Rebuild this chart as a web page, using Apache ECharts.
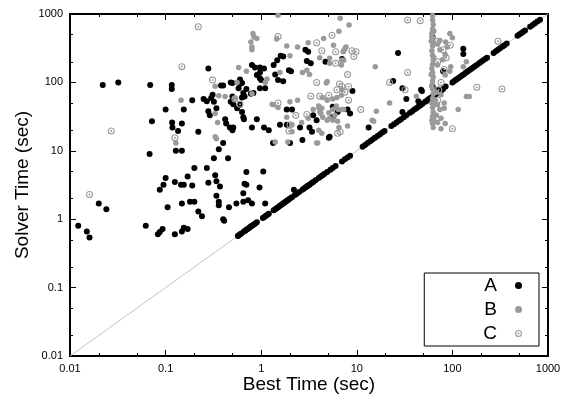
<!DOCTYPE html>
<html>
<head>
<meta charset="utf-8">
<script src="https://cdn.jsdelivr.net/npm/echarts@6/dist/echarts.min.js"></script>
<style>html,body{margin:0;padding:0;background:#fff}#c{width:562px;height:394px}</style>
</head>
<body>
<div id="c"></div>
<script>
const xMajor = [0.01, 0.1, 1, 10, 100, 1000];
const xMinor = [0.02, 0.05, 0.2, 0.5, 2, 5, 20, 50, 200, 500];
const yMajor = [0.01, 0.1, 1, 10, 100, 1000];
const yMinor = [0.02, 0.05, 0.2, 0.5, 2, 5, 20, 50, 200, 500];
const seriesNames = ['A', 'B', 'C'];
const xTitle = 'Best Time (sec)';
const yTitle = 'Solver Time (sec)';
const refLine = [[0.01, 0.01], [1000, 1000]];

const seriesA = [
[0.022,92],[0.032,100],[0.069,92],[0.116,92],[0.116,80],[0.19,55],[0.1,40],[0.155,40],[0.072,27],[0.117,26],[0.118,22],[0.148,25],[0.135,19.5],[0.22,19],[0.128,10],[0.148,10],[0.068,9],[0.2,5.6],[0.17,4.2],[0.1,4],[0.125,3.5],[0.095,3.2],[0.145,3.2],[0.155,3.2],[0.19,3.1],[0.087,2.7],
[0.0122,0.8],[0.015,0.66],[0.016,0.54],[0.02,1.7],[0.024,1.4],[0.062,0.8],[0.083,0.6],[0.087,0.65],[0.093,0.72],[0.105,1.5],[0.125,0.6],[0.148,1.7],[0.148,0.66],[0.155,0.75],[0.17,0.72],[0.18,1.8],[0.2,1.8],[0.22,1.3],[0.24,1.1],[0.28,3.4],[0.34,3.6],[0.37,3.0],[0.34,2.2],[0.36,1.8],[0.36,1.6],[0.4,1.0],[0.41,0.95],[0.46,1.5],[0.55,1.7],[0.65,1.8],[0.65,2.4],[0.7,3.2],[0.73,1.9],[0.8,1.7],[0.96,2.9],[1.1,1.7],
[0.33,4.4],[0.27,5.6],[0.32,7.8],[0.45,7.8],[0.36,10.5],[0.4,13],[0.7,4.9],[1.05,5.0],[0.67,3.3],[2.2,2.7],
[0.28,160],[0.38,90],[0.4,90],[0.48,100],[0.6,110],[0.63,98],[0.58,82],[0.7,80],[0.65,70],[0.67,62],[0.78,68],[0.83,70],[0.25,57],[0.27,53],[0.3,59],[0.31,66],[0.32,52],[0.34,42],[0.28,38],[0.29,33],[0.42,29],[0.43,25],[0.47,22],[0.5,20],[0.51,22],[0.63,37],[0.65,31],[0.66,29],[0.48,52],[0.56,42],[0.6,47],[0.8,22],[0.9,29],[1.07,22],[1.2,20],[1.57,24],[1.85,40],[2.1,40],[1.85,24],[2.55,22],[3.2,22],[3.5,33],[3.8,28],[5.6,44],[6.3,37],[5.6,31],[8,40],[5.2,16],
[2.9,300],[3.1,280],[3.0,205],[3.3,190],[4.7,200],[1.6,245],[1.7,240],[1.47,210],[1.35,180],[0.8,180],[0.86,165],[0.97,165],[1.07,160],[0.97,140],[1.0,108],[0.97,82],[1.1,82],[1.95,150],[2.05,145],[1.4,130],[1.7,104],[1.5,108],[0.97,115],[0.9,128],[0.6,95],[0.5,98],[0.63,60],[0.5,62],[0.51,48],[1.33,13],[2.0,13],[2.7,14.4],[3.4,19],[5.1,15.5],
[27,270],[24,105],[30,82],[48,75],[33,57],[44,53],[62,88],[70,78],[85,87],[30,37],[13.3,22],[8.5,35],[9,75],[7,220],[62,460],[130,310],[130,260],[80,145],[47,78]
];
const diagonalA = [
[0.57,0.57],[0.58,0.58],[0.6,0.6],[0.62,0.62],[0.66,0.66],[0.68,0.68],[0.7,0.7],[0.72,0.72],[0.74,0.74],[0.76,0.76],[0.78,0.78],[0.8,0.8],[0.83,0.83],[0.86,0.86],[0.9,0.9],
[1.04,1.04],[1.08,1.08],[1.12,1.12],[1.16,1.16],[1.2,1.2],[1.35,1.35],[1.4,1.4],[1.45,1.45],[1.5,1.5],[1.55,1.55],[1.6,1.6],[1.65,1.65],[1.7,1.7],[1.75,1.75],[1.8,1.8],[1.86,1.86],[1.92,1.92],[2.0,2.0],[2.1,2.1],
[2.25,2.25],[2.35,2.35],[2.5,2.5],[2.7,2.7],[2.8,2.8],[2.9,2.9],[3.0,3.0],[3.1,3.1],[3.2,3.2],[3.35,3.35],[3.5,3.5],[3.7,3.7],[4.0,4.0],[4.2,4.2],[4.4,4.4],[4.6,4.6],[4.9,4.9],[5.3,5.3],[5.6,5.6],[6.0,6.0],
[7.0,7.0],[7.5,7.5],[8.0,8.0],[8.5,8.5],[11.5,11.5],[12.2,12.2],[13,13],[13.8,13.8],[14.6,14.6],[15.5,15.5],[16.5,16.5],[17.5,17.5],[18.5,18.5],[19.5,19.5],
[23,23],[24.5,24.5],[26,26],[27.5,27.5],[29,29],[31,31],[33,33],[36,36],[38,38],[40,40],[42,42],[44,44],[46.5,46.5],[49,49],[52,52],[54,54],
[56,56],[58,58],[60,60],[62,62],[64,64],[66,66],[68,68],[70,70],[72,72],[74,74],[77,77],[80,80],
[100,100],[104,104],[108,108],[112,112],[117,117],[122,122],[127,127],[132,132],[138,138],[144,144],[150,150],[157,157],[165,165],[172,172],
[180,180],[190,190],[200,200],[210,210],[220,220],[230,230],[270,270],[285,285],[300,300],[315,315],[335,335],[350,350],[370,370],
[480,480],[500,500],[525,525],[550,550],[575,575],[650,650],[690,690],[730,730],[775,775],[825,825]
];
const seriesB = [
[0.145,55],[0.128,13],[0.33,88],[0.33,35],[0.35,26],[0.33,16],[0.34,15],[0.36,64],[0.42,62],[0.53,59],[0.56,100],[0.58,165],[0.7,145],[0.8,68],[1.15,112],[1.1,100],
[0.82,520],[0.84,460],[0.9,440],[0.78,390],[0.8,330],[0.8,300],[1.5,960],[1.45,430],[6.7,870],[8.3,690],[4.5,440],[3.1,380],[1.85,340],[2.4,330],[5.7,350],[7.7,330],[7.2,280],[7.5,310],[6.9,210],[6.5,560],[7.3,290],[5.2,190],[2.0,245],[1.57,140],[2.7,140],[3.0,150],[3.2,130],[4.1,230],[5.2,225],[4.8,98],[4.9,103],[7,78],[6.9,180],[7.3,210],[15.6,170],
[1.3,48],[1.5,43],[1.35,47],[2.4,55],[2.0,52],[1.85,31],[2.1,24],[2.65,26],[3.1,30],[3.5,40],[4.0,45],[4.1,37],[4.3,42],[4.4,60],[4.9,55],[4.0,43],[4.2,35],[4.4,31],[4.9,28],[5.1,36],[5.6,40],[6.1,45],[6.4,40],[7.3,40],[5.2,30],[5.6,28],[5.9,33],[6.5,22],[5.6,57],[6.2,60],[6.9,65],[4.0,20],[6.3,27],[1.4,13.5],[1.9,13.5],[3.8,13],[3.9,13],[4.3,18],[2.1,19],[7,40],[8,23],[14.5,28],[16,38],[22,50],[42,63],[15,27],
[62,950],[62,820],[63,700],[62,600],[61,520],[62,450],[63,390],[62,340],[61,290],[62,250],[63,215],[62,185],[61,160],[62,140],[63,120],[62,105],[61,92],[62,80],[63,68],[62,58],[61,50],[62,43],[63,37],[62,32],[61,28],[62,25],[63,22],[64,560],[60,400],[64,230],[60,130],[64,47],
[94,520],[100,450],[85,390],[70,360],[74,300],[84,255],[79,215],[88,330],[70,180],[96,170],[94,145],[140,200],[130,170],[84,128],[74,410],[140,62],[150,62],[115,40],[82,50],[82,42],[76,21],[84,25],[66,55],[70,47],[74,40],[68,33],[76,30],[64,28],[70,26],[68,72],[76,66]
];
const seriesC = [
[0.22,650],[0.148,170],[0.027,19.5],[0.125,15.5],[0.016,2.3],[0.31,108],[0.53,57],[0.6,48],[1.5,470],[5.5,490],[3.8,380],[4.3,290],[6.0,280],[6.0,190],[8.9,290],[9.8,280],[9.3,240],[1.5,50],[3.8,100],[3.3,63],[4.1,63],[5.1,65],[6.6,95],[7,87],[8.2,87],[6.2,78],[7.5,72],[8.2,55],[2.3,33],[3.0,34],[2.0,24],[1.95,19.5],[6.3,18],[6.7,19],[8,130],[11,40],[34,820],[46,800],[34,140],[22,100],[32,78],[76,100],[72,78],[70,55],[70,400],[100,21],[300,400],[180,85],[330,80],[80,300],[86,230],[70,200],[95,350],[82,155]
];

const FONT = 'Liberation Sans, Arial, Helvetica, sans-serif';
const ringPath = 'path://M0,10A10,10,0,1,1,20,10A10,10,0,1,1,0,10ZM3,10A7,7,0,1,0,17,10A7,7,0,1,0,3,10ZM7.2,10A2.8,2.8,0,1,1,12.8,10A2.8,2.8,0,1,1,7.2,10Z';
const fmt = v => String(Number(Number(v).toPrecision(3)));

function axis(dim, pos, ticks, len, withLabels) {
  return {
    type: 'log', logBase: 10, min: 0.01, max: 1000, position: pos,
    axisLine: { show: false },
    splitLine: { show: false },
    minorTick: { show: false },
    axisTick: { show: true, inside: true, length: len, customValues: ticks, lineStyle: { color: '#000', width: 1 } },
    axisLabel: withLabels
      ? { show: true, customValues: ticks, formatter: fmt, color: '#000', fontSize: 11, fontFamily: FONT, margin: 7 }
      : { show: false },
    silent: true
  };
}

const xAxes = [
  Object.assign(axis('x', 'bottom', xMajor, 6, true), {
    name: xTitle, nameLocation: 'middle', nameGap: 19, nameMoveOverlap: false,
    nameTextStyle: { fontSize: 19, fontFamily: FONT, color: '#000' }
  }),
  axis('x', 'bottom', xMinor, 3, false),
  axis('x', 'top', xMajor, 6, false),
  axis('x', 'top', xMinor, 3, false)
];
const yAxes = [
  Object.assign(axis('y', 'left', yMajor, 6, true), {
    name: yTitle, nameLocation: 'middle', nameGap: 38, nameRotate: 90, nameMoveOverlap: false,
    nameTextStyle: { fontSize: 19, fontFamily: FONT, color: '#000' }
  }),
  axis('y', 'left', yMinor, 3, false),
  axis('y', 'right', yMajor, 6, false),
  axis('y', 'right', yMinor, 3, false)
];

const chart = echarts.init(document.getElementById('c'), null, { renderer: 'canvas' });
chart.setOption({
  animation: false,
  backgroundColor: '#fff',
  grid: { left: 70, right: 14, top: 14, bottom: 38, containLabel: false, outerBoundsMode: 'none', show: true, borderColor: '#000', borderWidth: 2, backgroundColor: 'transparent' },
  xAxis: xAxes,
  yAxis: yAxes,
  legend: {
    data: seriesNames,
    orient: 'vertical', right: 23, top: 273, align: 'right',
    padding: [3, 17, 3, 59], itemGap: 5, itemWidth: 33, itemHeight: 7,
    borderColor: '#000', borderWidth: 1, borderRadius: 0, backgroundColor: '#fff',
    textStyle: { fontSize: 19, fontFamily: FONT, color: '#000' },
    selectedMode: false
  },
  series: [
    { type: 'line', data: refLine, showSymbol: false, symbol: 'none', lineStyle: { color: '#c4c4c4', width: 1 }, silent: true, z: 1 },
    { name: 'A', type: 'scatter', data: seriesA.concat(diagonalA), symbol: 'circle', symbolSize: 6, itemStyle: { color: '#000', opacity: 1 }, z: 2 },
    { name: 'B', type: 'scatter', data: seriesB, symbol: 'circle', symbolSize: 5.5, itemStyle: { color: '#9a9a9a', opacity: 1 }, z: 3 },
    { name: 'C', type: 'scatter', data: seriesC, symbol: ringPath, symbolSize: 7, itemStyle: { color: '#9a9a9a', opacity: 1 }, z: 4 }
  ]
});
</script>
</body>
</html>
